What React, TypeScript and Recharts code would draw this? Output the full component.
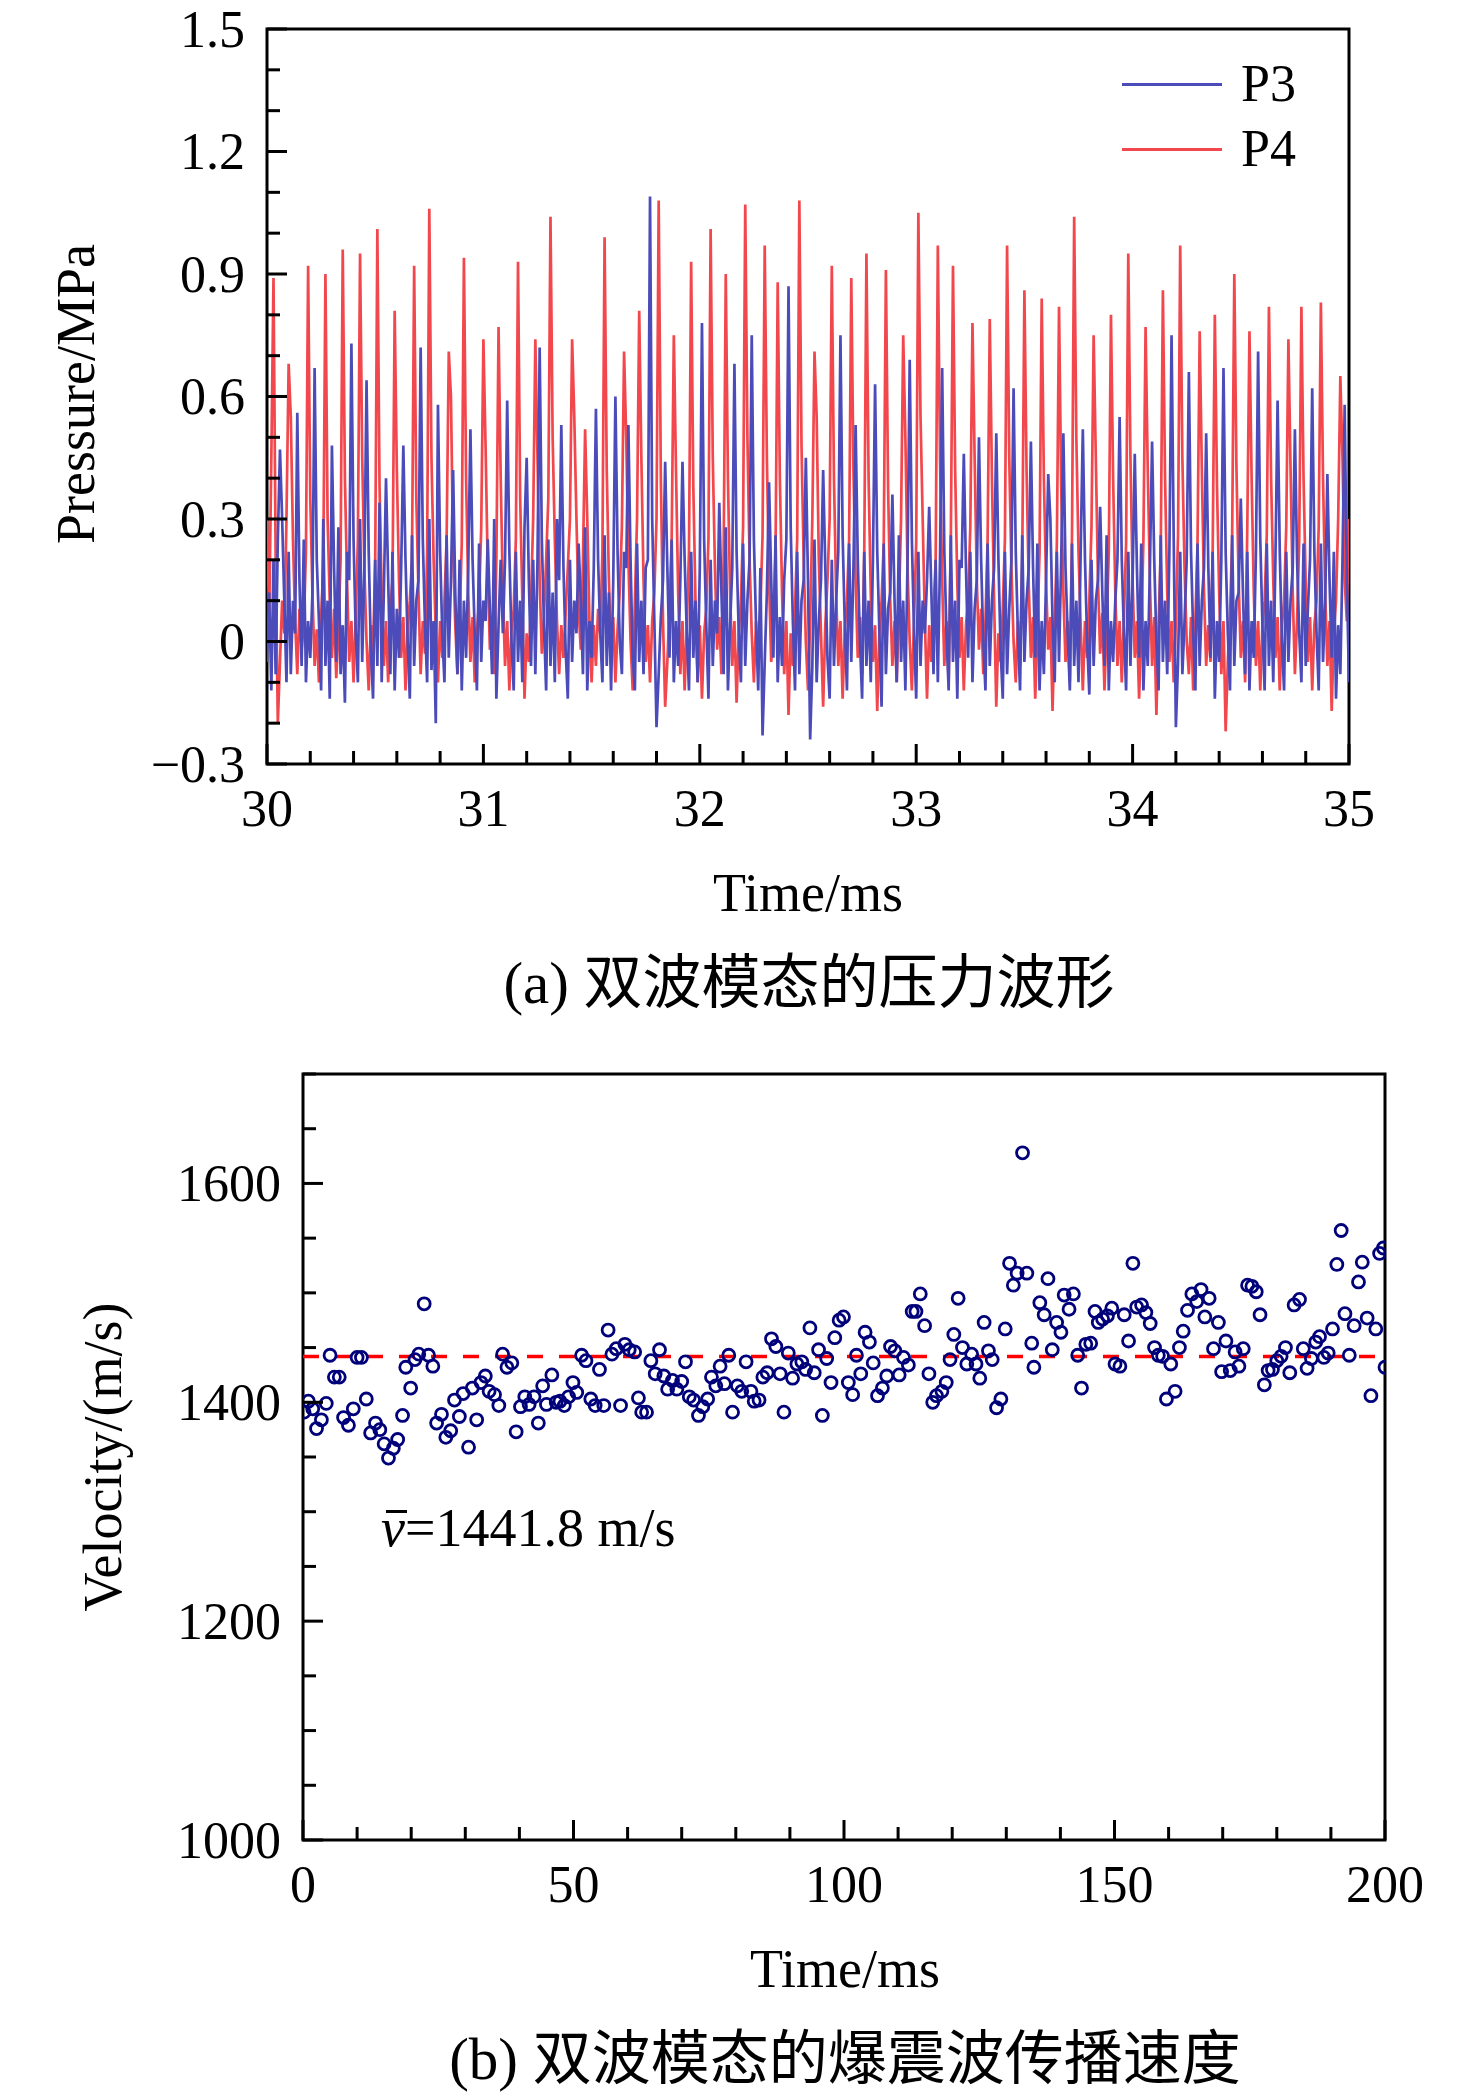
import React from "react";
import {
  LineChart,
  Line,
  XAxis,
  YAxis,
  ScatterChart,
  Scatter,
  ReferenceArea,
  ReferenceLine,
} from "recharts";

const SERIF = "'Liberation Serif', 'Times New Roman', 'Noto Sans CJK SC', serif";
const BLUE = "#4b4bb9";
const RED = "#f2474c";
const NAVY = "#00007a";

// (a) pressure traces, one sample every 0.01 ms starting at 30 ms
const P_START = 30;
const P_STEP = 0.01;

const P3 = [
  -0.05, 0.12, -0.12, 0.2, -0.08, 0.25, 0.47, 0.3, 0.1, -0.1,
  0.22, -0.08, 0.1, 0.02, 0.56, 0.15, -0.06, 0.25, -0.1, 0.05,
  -0.04, 0.12, 0.67, 0.2, 0.05, -0.12, 0.3, -0.06, 0.1, -0.14,
  0.48, 0.18, -0.05, 0.28, -0.08, 0.04, -0.15, 0.22, 0.15, 0.73,
  0.25, 0.02, -0.1, 0.3, -0.05, 0.18, 0.64, 0.22, -0.02, -0.14,
  0.2, -0.06, 0.34, -0.1, 0.12, 0.4, 0.15, -0.08, 0.22, -0.12,
  0.08, -0.04, 0.18, 0.48, 0.2, 0.0, -0.14, 0.26, -0.06, 0.1,
  0.15, 0.72, 0.25, 0.04, -0.1, 0.3, -0.07, 0.05, -0.2, 0.58,
  0.22, 0.02, -0.1, 0.26, -0.04, 0.15, 0.42, 0.12, -0.08, 0.2,
  -0.12, 0.1, -0.04, 0.18, 0.52, 0.2, 0.02, -0.12, 0.24, -0.05,
  0.1, 0.05, 0.25, 0.08, -0.08, 0.3, -0.14, 0.04, 0.2, 0.02,
  0.2, 0.59, 0.22, 0.0, -0.12, 0.22, -0.05, 0.1, -0.1, 0.28,
  0.45, 0.15, -0.06, 0.2, -0.08, 0.2, 0.72, 0.25, 0.04, -0.12,
  0.25, -0.06, 0.12, -0.1, 0.3, 0.15, 0.53, 0.18, -0.02, -0.14,
  0.2, -0.05, 0.1, 0.02, 0.24, 0.1, -0.08, 0.28, -0.12, 0.05,
  -0.04, 0.18, 0.57, 0.2, 0.02, -0.1, 0.26, -0.06, 0.12, -0.12,
  0.15, 0.6, 0.22, 0.0, -0.08, 0.22, 0.18, 0.53, 0.2, -0.04,
  -0.12, 0.24, -0.05, 0.1, -0.08, 0.18, 0.2, 1.09, 0.3, 0.05,
  -0.21, -0.08, 0.06, 0.15, 0.44, 0.18, -0.04, 0.25, -0.1, 0.05,
  -0.06, 0.15, 0.44, 0.2, 0.02, -0.12, 0.22, -0.04, 0.1, -0.1,
  0.18, 0.78, 0.25, 0.04, -0.14, 0.2, -0.06, 0.1, 0.02, 0.34,
  0.12, -0.08, 0.28, -0.12, 0.04, 0.18, 0.68, 0.22, 0.02, -0.1,
  0.24, -0.06, 0.1, 0.2, 0.75, 0.25, 0.04, -0.12, 0.18, -0.23,
  -0.05, 0.12, 0.39, 0.15, -0.04, 0.26, -0.1, 0.06, -0.06, 0.15,
  0.25, 0.87, 0.28, 0.05, -0.12, 0.22, -0.08, 0.1, 0.15, 0.45,
  0.15, -0.24, -0.06, 0.25, -0.1, 0.05, 0.15, 0.42, 0.18, -0.04,
  -0.14, 0.2, -0.06, 0.1, 0.22, 0.75, 0.26, 0.04, -0.12, 0.24,
  -0.05, 0.18, 0.53, 0.2, 0.0, -0.14, 0.22, -0.06, 0.1, -0.1,
  0.2, 0.63, 0.22, 0.02, -0.16, 0.24, -0.08, 0.08, 0.12, 0.36,
  0.1, -0.1, 0.26, -0.05, 0.1, -0.12, 0.2, 0.69, 0.25, 0.02,
  -0.14, 0.22, -0.06, 0.1, 0.02, 0.15, 0.33, 0.12, -0.08, 0.2,
  -0.1, 0.2, 0.67, 0.22, 0.02, -0.12, 0.26, -0.05, 0.1, -0.14,
  0.2, 0.18, 0.46, 0.18, -0.04, 0.22, -0.1, 0.08, 0.15, 0.5,
  0.2, 0.0, -0.12, 0.24, -0.06, 0.1, 0.18, 0.51, 0.2, -0.02,
  -0.14, 0.22, -0.08, 0.08, 0.2, 0.62, 0.22, 0.02, -0.12, 0.26,
  -0.05, 0.1, 0.18, 0.49, 0.18, -0.04, 0.24, -0.12, 0.05, -0.08,
  0.15, 0.41, 0.3, 0.05, -0.1, 0.22, -0.05, 0.2, 0.51, 0.18,
  0.02, -0.12, 0.24, -0.06, 0.1, -0.1, 0.22, 0.52, 0.2, 0.0,
  -0.13, 0.2, -0.06, 0.1, 0.15, 0.33, 0.12, -0.06, 0.26, -0.12,
  0.05, -0.05, 0.1, 0.2, 0.55, 0.2, 0.02, -0.12, 0.22, -0.06,
  0.15, 0.46, 0.18, -0.04, 0.24, -0.12, 0.05, -0.06, 0.18, 0.49,
  0.2, 0.0, -0.12, 0.26, -0.05, 0.1, -0.08, 0.22, 0.75, 0.25,
  -0.21, -0.05, 0.22, -0.08, 0.05, 0.2, 0.66, 0.22, 0.02, -0.12,
  0.24, -0.06, 0.1, 0.18, 0.51, 0.18, -0.04, 0.22, -0.14, 0.05,
  -0.05, 0.2, 0.67, 0.22, 0.02, -0.12, 0.26, -0.06, 0.1, 0.12,
  0.35, 0.12, -0.08, 0.22, -0.12, 0.05, -0.04, 0.22, 0.71, 0.25,
  0.04, -0.12, 0.24, -0.06, 0.1, -0.1, 0.2, 0.59, 0.22, 0.0,
  -0.12, 0.22, -0.05, 0.1, 0.18, 0.52, 0.2, 0.02, -0.1, 0.24,
  -0.06, 0.08, 0.2, 0.62, 0.22, 0.02, -0.12, 0.24, -0.05, 0.1,
  0.41, 0.15, -0.04, 0.22, -0.14, 0.04, -0.08, 0.2, 0.58, 0.15,
  -0.1,
];

const P4 = [
  0.3, 0.05, 0.45, 0.89, 0.2, -0.2, -0.05, 0.1, 0.02, 0.3,
  0.68, 0.55, 0.25, 0.05, -0.08, 0.08, -0.02, 0.04, 0.22, 0.92,
  0.35, 0.12, -0.06, 0.03, -0.1, 0.06, 0.18, 0.9, 0.3, 0.1,
  -0.04, 0.08, -0.09, 0.02, 0.2, 0.96, 0.4, 0.15, -0.05, 0.05,
  -0.1, 0.06, 0.25, 0.95, 0.45, 0.18, 0.0, -0.12, 0.04, -0.03,
  0.2, 1.01, 0.38, 0.12, -0.06, 0.05, -0.1, 0.08, 0.15, 0.81,
  0.42, 0.15, -0.04, 0.06, -0.12, 0.03, 0.1, 0.2, 0.92, 0.35,
  0.12, -0.08, 0.05, -0.03, 0.22, 1.06, 0.45, 0.2, 0.02, -0.1,
  0.05, -0.04, 0.1, 0.25, 0.71, 0.6, 0.22, 0.04, -0.08, 0.05,
  0.24, 0.94, 0.4, 0.12, -0.05, 0.06, -0.1, 0.02, 0.1, 0.28,
  0.74, 0.48, 0.18, -0.02, 0.06, -0.08, 0.2, 0.77, 0.4, 0.12,
  -0.06, 0.05, -0.12, 0.03, 0.08, 0.25, 0.93, 0.35, 0.1, -0.14,
  0.02, -0.05, 0.1, 0.3, 0.74, 0.45, 0.15, -0.03, 0.06, 0.2,
  0.35, 1.04, 0.5, 0.25, 0.05, -0.08, 0.04, -0.04, 0.07, 0.18,
  0.3, 0.74, 0.55, 0.3, 0.08, -0.02, 0.2, 0.52, 0.3, 0.05,
  -0.1, 0.04, -0.06, 0.08, 0.02, 0.22, 0.99, 0.42, 0.15, -0.04,
  0.06, -0.1, 0.03, 0.12, 0.28, 0.71, 0.5, 0.2, 0.0, -0.12,
  0.1, 0.3, 0.81, 0.45, 0.15, -0.05, 0.04, -0.1, 0.05, 0.12,
  0.3, 1.08, 0.4, 0.05, -0.16, -0.05, 0.08, 0.25, 0.75, 0.42,
  0.12, -0.08, 0.05, -0.12, 0.04, 0.22, 0.93, 0.38, 0.1, -0.1,
  0.04, -0.14, 0.02, 0.08, 0.25, 1.01, 0.45, 0.18, -0.02, 0.06,
  -0.08, 0.2, 0.9, 0.4, 0.12, -0.06, 0.05, -0.15, 0.02, 0.1,
  0.28, 1.07, 0.5, 0.2, 0.02, -0.1, 0.05, -0.04, 0.08, 0.26,
  0.97, 0.45, 0.15, -0.05, 0.04, 0.22, 0.88, 0.4, 0.12, -0.08,
  0.05, -0.18, 0.02, -0.06, 0.08, 0.25, 1.08, 0.48, 0.2, 0.0,
  -0.12, 0.05, 0.3, 0.71, 0.55, 0.2, 0.02, -0.16, 0.04, 0.15,
  0.3, 0.92, 0.4, 0.12, -0.06, 0.05, -0.14, 0.03, 0.1, 0.25,
  0.89, 0.42, 0.15, -0.04, 0.06, -0.08, 0.22, 0.95, 0.4, 0.12,
  -0.05, 0.04, -0.17, 0.02, 0.1, 0.24, 0.91, 0.38, 0.1, -0.06,
  0.05, -0.1, 0.08, 0.3, 0.75, 0.5, 0.18, 0.0, -0.12, 0.05,
  0.24, 1.05, 0.55, 0.3, 0.05, -0.14, 0.04, -0.05, 0.08, 0.2,
  0.97, 0.45, 0.15, -0.06, 0.05, -0.1, 0.25, 0.92, 0.42, 0.14,
  -0.04, 0.06, -0.12, 0.04, 0.1, 0.28, 0.78, 0.45, 0.15, -0.02,
  0.08, -0.08, 0.05, 0.25, 0.79, 0.4, 0.1, -0.16, 0.02, -0.05,
  0.08, 0.25, 0.97, 0.45, 0.18, 0.0, -0.1, 0.05, -0.06, 0.2,
  0.86, 0.42, 0.14, -0.04, 0.06, -0.14, 0.02, 0.22, 0.84, 0.4,
  0.15, -0.02, 0.06, -0.17, 0.04, 0.24, 0.82, 0.38, 0.12, -0.05,
  0.05, -0.1, 0.26, 1.04, 0.5, 0.22, 0.04, -0.12, 0.05, -0.04,
  0.1, 0.28, 0.75, 0.45, 0.15, -0.03, 0.07, -0.12, 0.04, 0.22,
  0.8, 0.4, 0.12, -0.06, 0.05, -0.1, 0.06, 0.24, 0.95, 0.45,
  0.15, -0.04, 0.05, -0.14, 0.02, 0.25, 0.77, 0.42, 0.15, -0.06,
  0.06, -0.18, 0.04, 0.22, 0.86, 0.4, 0.12, -0.05, 0.05, -0.1,
  0.05, 0.26, 0.97, 0.45, 0.18, 0.0, -0.08, 0.06, -0.12, 0.05,
  0.24, 0.76, 0.42, 0.12, -0.06, 0.04, -0.05, 0.22, 0.8, 0.38,
  0.12, -0.08, 0.05, -0.22, -0.05, 0.06, 0.25, 0.9, 0.42, 0.15,
  -0.04, 0.05, -0.1, 0.28, 0.76, 0.4, 0.12, -0.06, 0.05, -0.12,
  0.04, 0.1, 0.26, 0.82, 0.4, 0.15, -0.04, 0.06, -0.12, 0.04,
  0.1, 0.28, 0.74, 0.42, 0.12, -0.08, 0.05, 0.25, 0.82, 0.4,
  0.14, -0.05, 0.06, -0.12, 0.04, 0.1, 0.28, 0.83, 0.4, 0.12,
  -0.06, 0.05, -0.17, 0.02, 0.1, 0.3, 0.65, 0.45, 0.15, 0.05,
  0.3,
];

const P_X_LABELS = [30, 31, 32, 33, 34, 35];
const P_Y_LABELS = [-0.3, 0, 0.3, 0.6, 0.9, 1.2, 1.5];

// (b) detonation wave speed
const V_TIME = [
  0.2, 1.0, 1.8, 2.5, 3.4, 4.3, 5.0, 5.8, 6.7, 7.5, 8.4, 9.3, 10.0, 10.8, 11.7, 12.5, 13.4, 14.2, 15.0, 15.8,
  16.7, 17.5, 18.4, 19.0, 19.9, 20.7, 21.4, 22.4, 23.2, 24.0, 24.7, 25.6, 26.4, 27.3, 28.0, 28.9, 29.6, 30.6, 31.3, 32.1,
  32.9, 33.7, 34.4, 35.4, 36.2, 36.9, 37.7, 38.6, 39.4, 40.2, 41.0, 41.8, 42.7, 43.5, 44.3, 45.0, 46.0, 46.8, 47.5, 48.3,
  49.1, 49.9, 50.6, 51.5, 52.3, 53.2, 54.0, 54.8, 55.6, 56.4, 57.1, 57.9, 58.7, 59.5, 60.3, 61.3, 62.0, 62.6, 63.5, 64.3,
  65.1, 65.9, 66.7, 67.4, 68.3, 69.1, 70.0, 70.7, 71.4, 72.2, 73.1, 73.9, 74.8, 75.5, 76.3, 77.1, 77.9, 78.7, 79.4, 80.3,
  81.1, 81.9, 82.8, 83.4, 84.3, 85.0, 85.8, 86.6, 87.4, 88.2, 88.9, 89.7, 90.5, 91.3, 92.2, 92.9, 93.7, 94.5, 95.3, 96.0,
  96.8, 97.6, 98.3, 99.1, 99.9, 100.8, 101.6, 102.3, 103.1, 103.9, 104.7, 105.4, 106.2, 107.1, 107.9, 108.6, 109.4, 110.2, 111.0, 111.9,
  112.6, 113.3, 114.1, 114.9, 115.7, 116.4, 117.1, 118.1, 118.9, 119.6, 120.3, 121.1, 121.9, 122.7, 123.6, 124.4, 125.1, 125.9, 126.7, 127.4,
  128.2, 129.0, 129.8, 130.6, 131.3, 132.0, 133.0, 133.8, 134.7, 135.1, 136.2, 137.0, 137.7, 138.5, 139.3, 140.1, 140.7, 141.6, 142.4, 143.2,
  143.9, 144.7, 145.6, 146.4, 147.0, 147.8, 148.7, 149.5, 150.1, 151.0, 151.8, 152.6, 153.4, 154.1, 155.0, 155.8, 156.6, 157.4, 158.1, 158.9,
  159.6, 160.4, 161.2, 162.0, 162.7, 163.5, 164.3, 165.2, 166.0, 166.7, 167.5, 168.3, 169.2, 169.8, 170.6, 171.4, 172.3, 173.0, 173.8, 174.6,
  175.4, 176.2, 176.9, 177.7, 178.4, 179.2, 180.0, 180.8, 181.6, 182.4, 183.2, 184.2, 184.9, 185.6, 186.4, 187.2, 187.9, 188.7, 189.5, 190.3,
  191.1, 191.9, 192.6, 193.4, 194.3, 195.1, 195.8, 196.7, 197.4, 198.3, 199.0, 199.7, 200.0,
];

const V_SPEED = [
  1391, 1401, 1394, 1376, 1384, 1399, 1443, 1423, 1423, 1386, 1379, 1394, 1441, 1441, 1403, 1372, 1381, 1375, 1362, 1349,
  1358, 1366, 1388, 1432, 1413, 1439, 1444, 1490, 1443, 1433, 1381, 1389, 1368, 1374, 1402, 1387, 1408, 1359, 1413, 1384,
  1418, 1424, 1410, 1407, 1397, 1444, 1432, 1436, 1373, 1396, 1405, 1398, 1405, 1381, 1415, 1398, 1425, 1400, 1401, 1397,
  1405, 1418, 1409, 1443, 1438, 1403, 1397, 1430, 1397, 1466, 1444, 1449, 1397, 1453, 1448, 1446, 1404, 1391, 1391, 1438,
  1426, 1448, 1424, 1412, 1420, 1412, 1419, 1437, 1405, 1402, 1388, 1396, 1403, 1423, 1415, 1433, 1417, 1443, 1391, 1415,
  1410, 1437, 1410, 1401, 1402, 1423, 1427, 1458, 1451, 1426, 1391, 1445, 1422, 1435, 1437, 1430, 1468, 1427, 1448, 1388,
  1440, 1418, 1459, 1475, 1478, 1418, 1407, 1443, 1426, 1464, 1455, 1436, 1406, 1413, 1424, 1451, 1447, 1425, 1441, 1434,
  1483, 1483, 1499, 1470, 1426, 1400, 1406, 1410, 1418, 1439, 1462, 1495, 1450, 1435, 1444, 1435, 1422, 1473, 1447, 1439,
  1395, 1403, 1467, 1527, 1507, 1518, 1628, 1518, 1454, 1432, 1491, 1480, 1513, 1448, 1473, 1464, 1498, 1485, 1499, 1443,
  1413, 1453, 1454, 1483, 1473, 1476, 1479, 1486, 1435, 1433, 1480, 1456, 1527, 1487, 1489, 1482, 1472, 1450, 1443, 1442,
  1403, 1435, 1410, 1450, 1465, 1484, 1499, 1492, 1503, 1478, 1495, 1449, 1473, 1428, 1456, 1429, 1446, 1433, 1449, 1507,
  1506, 1501, 1480, 1416, 1429, 1430, 1438, 1442, 1450, 1427, 1489, 1494, 1449, 1431, 1440, 1455, 1460, 1441, 1445, 1467,
  1526, 1557, 1481, 1443, 1470, 1510, 1528, 1477, 1406, 1467, 1536, 1541, 1432,
];

const V_MEAN = 1441.8;
const V_X_LABELS = [0, 50, 100, 150, 200];
const V_Y_LABELS = [1000, 1200, 1400, 1600];

const pressureRows = P3.map((p3, i) => ({
  t: +(P_START + i * P_STEP).toFixed(4),
  p3,
  p4: P4[i],
}));

const velocityRows = V_TIME.map((t, i) => ({ t, v: V_SPEED[i] }));

function steps(from: number, to: number, step: number) {
  const out: number[] = [];
  const n = Math.round((to - from) / step);
  for (let i = 0; i <= n; i++) out.push(+(from + i * step).toFixed(6));
  return out;
}

const isMajor = (labels: number[], v: number) => labels.some((l) => Math.abs(l - v) < 1e-6);

const fmtPressure = (v: number) => {
  if (Math.abs(v) < 1e-9) return "0";
  return v < 0 ? `\u2212${Math.abs(v).toFixed(1)}` : v.toFixed(1);
};
const fmtInt = (v: number) => String(Math.round(v));

function bottomTick(labels: number[], fmt: (v: number) => string) {
  return (props: any) => {
    const { x, y, payload } = props;
    const major = isMajor(labels, payload.value);
    return (
      <g>
        <line x1={x} x2={x} y1={y} y2={y - (major ? 20 : 13)} stroke="#000" strokeWidth={3} />
        {major && (
          <text x={x} y={y + 44} textAnchor="middle" dominantBaseline="central" fontFamily={SERIF} fontSize={52} fill="#000">
            {fmt(payload.value)}
          </text>
        )}
      </g>
    );
  };
}

function leftTick(labels: number[], fmt: (v: number) => string) {
  return (props: any) => {
    const { x, y, payload } = props;
    const major = isMajor(labels, payload.value);
    return (
      <g>
        <line x1={x} x2={x + (major ? 20 : 13)} y1={y} y2={y} stroke="#000" strokeWidth={3} />
        {major && (
          <text x={x - 22} y={y} textAnchor="end" dominantBaseline="central" fontFamily={SERIF} fontSize={52} fill="#000">
            {fmt(payload.value)}
          </text>
        )}
      </g>
    );
  };
}

function Ring(props: any) {
  const { cx, cy } = props;
  return <circle cx={cx} cy={cy} r={6} fill="none" stroke={NAVY} strokeWidth={2.8} />;
}

function Txt({ x, y, size = 54, rotate = false, children }: any) {
  return (
    <div
      style={{
        position: "absolute",
        left: x,
        top: y,
        transform: `translate(-50%, -50%)${rotate ? " rotate(-90deg)" : ""}`,
        fontFamily: SERIF,
        fontSize: size,
        lineHeight: 1,
        whiteSpace: "nowrap",
        color: "#000",
      }}
    >
      {children}
    </div>
  );
}

function LegendRow({ top, color, label }: any) {
  return (
    <div style={{ position: "absolute", left: 1122, top: top - 30, height: 60, display: "flex", alignItems: "center" }}>
      <div style={{ width: 100, height: 3, background: color }} />
      <span style={{ marginLeft: 19, fontFamily: SERIF, fontSize: 52, lineHeight: 1 }}>{label}</span>
    </div>
  );
}

export default function App() {
  return (
    <div style={{ position: "absolute", left: 0, top: 0, width: 1476, height: 2097, background: "#fff", overflow: "hidden" }}>
      <div style={{ position: "absolute", left: 0, top: 0 }}>
        <LineChart width={1476} height={1000} data={pressureRows} margin={{ top: 29, right: 127, bottom: 235, left: 266 }}>
          <XAxis
            dataKey="t"
            type="number"
            domain={[30, 35]}
            ticks={steps(30, 35, 0.2)}
            interval={0}
            tick={bottomTick(P_X_LABELS, fmtInt)}
            tickLine={false}
            axisLine={false}
            tickSize={0}
            tickMargin={0}
            height={1}
            allowDataOverflow
          />
          <YAxis
            type="number"
            domain={[-0.3, 1.5]}
            ticks={steps(-0.3, 1.5, 0.1)}
            interval={0}
            tick={leftTick(P_Y_LABELS, fmtPressure)}
            tickLine={false}
            axisLine={false}
            tickSize={0}
            tickMargin={0}
            width={1}
            allowDataOverflow
          />
          <Line type="linear" dataKey="p4" stroke={RED} strokeWidth={2.7} dot={false} isAnimationActive={false} />
          <Line type="linear" dataKey="p3" stroke={BLUE} strokeWidth={2.7} dot={false} isAnimationActive={false} />
          <ReferenceArea x1={30} x2={35} y1={-0.3} y2={1.5} fill="none" fillOpacity={0} stroke="#000" strokeWidth={3} ifOverflow="visible" />
        </LineChart>
      </div>

      <div style={{ position: "absolute", left: 0, top: 1040 }}>
        <ScatterChart width={1476} height={1057} margin={{ top: 34, right: 91, bottom: 256, left: 302 }}>
          <XAxis
            dataKey="t"
            type="number"
            domain={[0, 200]}
            ticks={steps(0, 200, 10)}
            interval={0}
            tick={bottomTick(V_X_LABELS, fmtInt)}
            tickLine={false}
            axisLine={false}
            tickSize={0}
            tickMargin={0}
            height={1}
            allowDataOverflow
          />
          <YAxis
            dataKey="v"
            type="number"
            domain={[1000, 1700]}
            ticks={steps(1000, 1700, 50)}
            interval={0}
            tick={leftTick(V_Y_LABELS, fmtInt)}
            tickLine={false}
            axisLine={false}
            tickSize={0}
            tickMargin={0}
            width={1}
            allowDataOverflow
          />
          <ReferenceLine y={V_MEAN} stroke="#ff0000" strokeWidth={3.5} strokeDasharray="16 16" />
          <Scatter data={velocityRows} shape={Ring} isAnimationActive={false} />
          <ReferenceArea x1={0} x2={200} y1={1000} y2={1700} fill="none" fillOpacity={0} stroke="#000" strokeWidth={3} ifOverflow="visible" />
        </ScatterChart>
      </div>

      <LegendRow top={84} color={BLUE} label="P3" />
      <LegendRow top={149} color={RED} label="P4" />

      <Txt x={76} y={394} rotate>Pressure/MPa</Txt>
      <Txt x={808} y={893}>Time/ms</Txt>
      <Txt x={809} y={983} size={59}>(a) 双波模态的压力波形</Txt>

      <Txt x={103} y={1457} rotate>Velocity/(m/s)</Txt>
      <div
        style={{
          position: "absolute",
          left: 381,
          top: 1528,
          transform: "translateY(-50%)",
          fontFamily: SERIF,
          fontSize: 54,
          lineHeight: 1,
          whiteSpace: "nowrap",
        }}
      >
        <span style={{ position: "relative", display: "inline-block", fontStyle: "italic" }}>
          v
          <span style={{ position: "absolute", left: 5, right: -2, top: 9, height: 3, background: "#000" }} />
        </span>
        =1441.8 m/s
      </div>
      <Txt x={845} y={1969}>Time/ms</Txt>
      <Txt x={845} y={2059} size={59}>(b) 双波模态的爆震波传播速度</Txt>
    </div>
  );
}
